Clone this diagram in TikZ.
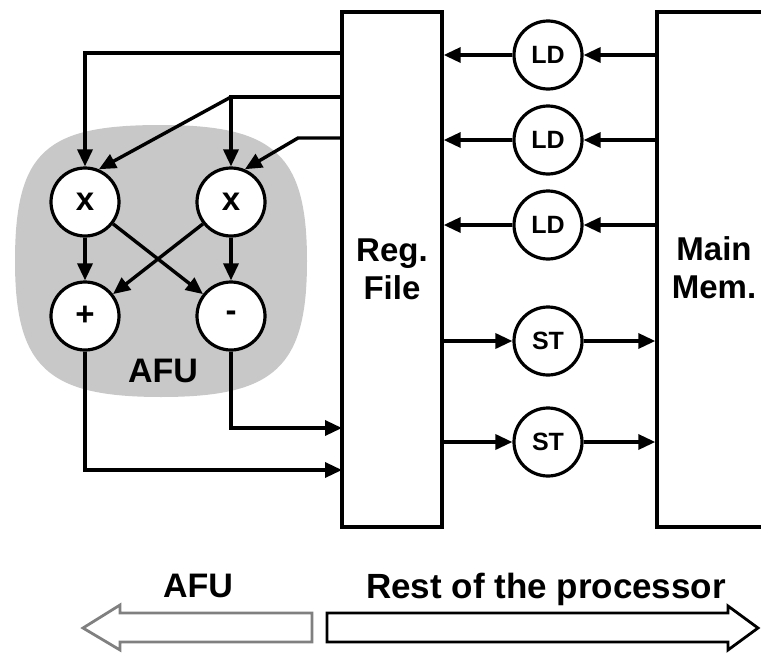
\documentclass[tikz,border=0pt]{standalone}
\usepackage{fontspec}
\setmainfont{Liberation Sans}
\usetikzlibrary{arrows.meta,calc}
\definecolor{blobgray}{RGB}{200,200,200}
\definecolor{arrgray}{RGB}{128,128,128}
\begin{document}
\begin{tikzpicture}[x=1pt,y=-1pt,
  ln/.style={line width=3.4pt},
  arr/.style={line width=3.4pt,-{Triangle[length=17pt,width=15pt]}},
  fu/.style={circle,draw,line width=3.2pt,fill=white,minimum size=68pt,inner sep=0pt,
     font=\fontsize{33}{33}\selectfont\bfseries},
  ldst/.style={circle,draw,line width=3.2pt,fill=white,minimum size=68pt,inner sep=0pt,
     font=\fontsize{25}{25}\selectfont\bfseries},
  bigbox/.style={draw,line width=3.4pt,rectangle,inner sep=0pt,minimum height=515pt},
  bigtxt/.style={font=\fontsize{33}{38}\selectfont\bfseries,align=center,inner sep=0pt},
  labtxt/.style={font=\fontsize{34}{40}\selectfont\bfseries,inner sep=0pt,anchor=base}]
\useasboundingbox (0,0) rectangle (761,656);
\clip (0,0) rectangle (761,656);
% AFU blob
\fill[blobgray] (15,261) .. controls (15,150) and (47,125) .. (161,125)
  .. controls (275,125) and (307,155) .. (307,261)
  .. controls (307,367) and (275,397) .. (161,397)
  .. controls (47,397) and (15,367) .. (15,261) -- cycle;
\node[labtxt] (afu) at (163,382) {AFU};
% register file and memory
\node[bigbox,minimum width=100pt,bigtxt] (rf) at (392,269.5) {Reg.\\File};
\node[bigbox,minimum width=140pt] (mm) at (727,269.5) {};
\node[bigtxt] (mml) at (714,268) {Main\\Mem.};
% functional units
\node[fu] (x1) at (85,202) {x};
\node[fu] (x2) at (231,202) {x};
\node[fu] (pl) at (85,316) {+};
\node[fu] (mi) at (231,316) {-};
% load / store units
\node[ldst] (ld1) at (548,55) {LD};
\node[ldst] (ld2) at (548,140) {LD};
\node[ldst] (ld3) at (548,225) {LD};
\node[ldst] (st1) at (548,341) {ST};
\node[ldst] (st2) at (548,442) {ST};
% memory connections
\foreach \n in {ld1,ld2,ld3}{
  \draw[arr] (mm.west |- \n) -- (\n);
  \draw[arr] (\n) -- (rf.east |- \n);
}
\foreach \n in {st1,st2}{
  \draw[arr] (rf.east |- \n) -- (\n);
  \draw[arr] (\n) -- (mm.west |- \n);
}
% AFU inputs
\coordinate (i1) at (342,53);
\coordinate (i2) at (342,97);
\coordinate (i3) at (342,138);
\coordinate (j2) at (231,97);
\coordinate (j3) at (298,138);
\coordinate (o1) at (342,428);
\coordinate (o2) at (342,470);
\draw[arr] (i1) -| (x1.north);
\draw[arr] (i2) -- (j2) -- (x2.north);
\draw[arr] (j2) -- (x1.67);
\draw[arr] (i3) -- (j3) -- (x2.67);
% AFU internal
\draw[arr] (x1) -- (pl);
\draw[arr] (x2) -- (mi);
\draw[arr] (x1) -- (mi);
\draw[arr] (x2) -- (pl);
% AFU outputs
\draw[arr] (mi.south) |- (o1);
\draw[arr] (pl.south) |- (o2);
% bottom legend arrows
\draw[line width=2.8pt,arrgray] (83,628) -- (120,605) -- (120,613) -- (312,613)
  -- (312,642) -- (120,642) -- (120,650) -- cycle;
\draw[line width=2.8pt] (327,613) -- (728,613) -- (728,606) -- (758,628)
  -- (728,650) -- (728,642) -- (327,642) -- cycle;
\node[labtxt] (afub) at (198,597) {AFU};
\node[labtxt,font=\fontsize{35}{40}\selectfont\bfseries] (rest) at (546,598) {Rest of the processor};
\end{tikzpicture}
\end{document}
